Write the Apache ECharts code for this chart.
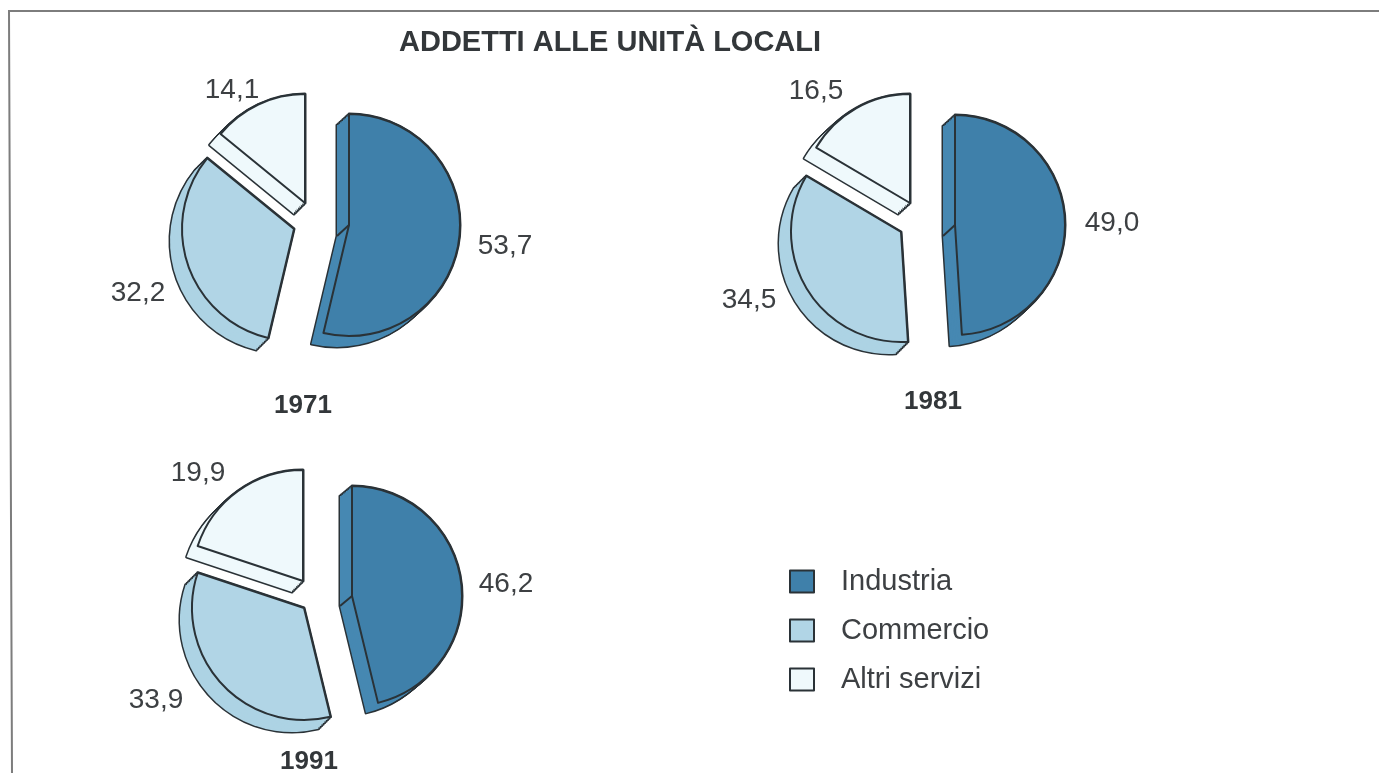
<!DOCTYPE html>
<html><head><meta charset="utf-8">
<style>html,body{margin:0;padding:0;background:#fff}#c{width:1379px;height:773px}</style>
<script src="https://cdn.jsdelivr.net/npm/echarts@6/dist/echarts.min.js"></script>
</head><body><div id="c"></div>
<script>
const years = ['1971', '1981', '1991'];
const sectorNames = ['Industria', 'Commercio', 'Altri servizi'];
const industria = [53.7, 49.0, 46.2];
const commercio = [32.2, 34.5, 33.9];
const altriServizi = [14.1, 16.5, 19.9];
const chartTitle = 'ADDETTI ALLE UNITÀ LOCALI';

const values = [industria, commercio, altriServizi];
const faceColors = ['#3f80aa', '#b1d5e6', '#eff9fc'];
const sideColors = ['#4688b2', '#add3e4', '#eff9fc'];
const INK = '#2a3237', TEXT = '#3d4043';
const FONT = '"Liberation Sans", Arial, sans-serif';
const LAYERS = 8;

// layout of each exploded slice: [centre x, centre y, radius, depth x, depth y]
const sliceLayout = [
  [[349, 225, 111, -12, 11], [294, 229, 112, -12, 12], [305, 203, 109, -11, 11]],
  [[955, 225, 110, -12, 11], [901, 232, 110, -12, 12], [910, 203, 109, -12, 11]],
  [[352, 596, 110, -12, 10], [304, 608, 112, -12, 12], [303, 581, 111, -11, 11]]
];
const labelCentres = [
  [[505, 246], [138, 293], [232, 90]],
  [[1112, 223], [749, 300], [816, 91]],
  [[506, 584], [156, 700], [198, 473]]
];
const yearCentres = [[298, 401], [928, 397], [304, 757]];

const fmt = v => v.toFixed(1).replace('.', ',');
const series = [];
const graphic = [
  {type: 'polyline', z: 20, silent: true,
   shape: {points: [[12, 773], [9, 11], [1379, 11]]},
   style: {fill: 'none', stroke: '#7d7d7d', lineWidth: 2}}
];

years.forEach((year, y) => {
  const total = values.reduce((s, arr) => s + arr[y], 0);
  let cum = 0;
  sectorNames.forEach((name, s) => {
    const v = values[s][y];
    const [cx, cy, r, dx, dy] = sliceLayout[y][s];
    const startAngle = 90 - 360 * cum / total;
    cum += v;
    const base = {
      type: 'pie', silent: true, animation: false, clockwise: true,
      radius: [0, r], startAngle, avoidLabelOverlap: false,
      minShowLabelAngle: 0, emphasis: {disabled: true}, labelLine: {show: false}
    };
    const make = (id, k, fill, border, bw, withLabel) => Object.assign({}, base, {
      name: `${year} ${name} ${id}`,
      center: [cx + dx * k / LAYERS, cy + dy * k / LAYERS],
      label: withLabel ? {
        show: true, position: 'outside', color: TEXT, fontFamily: FONT, fontSize: 28,
        formatter: p => fmt(p.value)
      } : {show: false},
      labelLayout: withLabel ? (p => p.dataIndex === 0 ? {
        x: labelCentres[y][s][0], y: labelCentres[y][s][1], align: 'center', verticalAlign: 'middle'
      } : {}) : undefined,
      data: [
        {name, value: v, itemStyle: {color: fill, borderColor: border, borderWidth: bw, borderJoin: 'round'}},
        {name: 'resto', value: total - v, label: {show: false},
         itemStyle: {color: 'rgba(0,0,0,0)', borderWidth: 0}}
      ]
    });
    for (let k = LAYERS; k >= 0; k--) series.push(make('bordo' + k, k, INK, INK, 3, false));
    for (let k = LAYERS; k >= 0; k--) series.push(make('lato' + k, k, sideColors[s], 'transparent', 0, false));
    series.push(make('faccia', 0, faceColors[s], INK, 2, true));
    if (s === 0) {
      graphic.push({type: 'line', z: 15, silent: true,
        shape: {x1: cx, y1: cy, x2: cx + dx, y2: cy + dy},
        style: {stroke: INK, lineWidth: 2}});
    }
  });
});

const option = {
  backgroundColor: '#fff',
  animation: false,
  title: [
    {text: chartTitle, left: 394, top: 23, textStyle: {fontFamily: FONT, fontWeight: 'bold', fontSize: 29, color: '#33373a'}}
  ].concat(years.map((yr, i) => ({
    text: yr, left: yearCentres[i][0], top: yearCentres[i][1], textAlign: 'center', textVerticalAlign: 'middle',
    textStyle: {fontFamily: FONT, fontWeight: 'bold', fontSize: 26, color: '#33373a'}
  }))),
  legend: {
    orient: 'vertical', left: 784, top: 562, selectedMode: false,
    itemWidth: 24, itemHeight: 22, itemGap: 20, icon: 'rect',
    textStyle: {fontFamily: FONT, fontSize: 29, color: TEXT, padding: [0, 0, 0, 22]},
    data: sectorNames.map((name, i) => ({name, icon: 'rect',
      itemStyle: {color: faceColors[i], borderColor: INK, borderWidth: 2}}))
  },
  graphic,
  series
};
const chart = echarts.init(document.getElementById('c'), null, {renderer: 'canvas'});
chart.setOption(option);
</script></body></html>
